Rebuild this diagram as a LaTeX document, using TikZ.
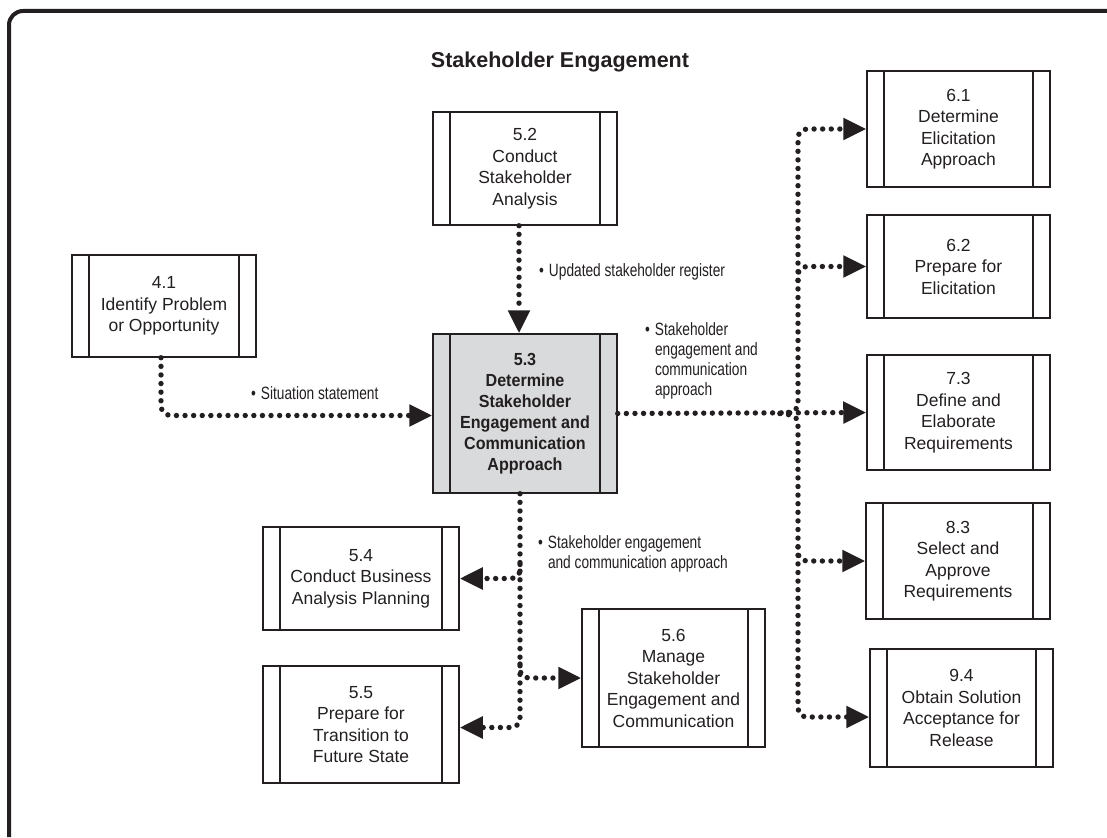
\documentclass[tikz,border=0pt]{standalone}
\usepackage{fontspec}
\setmainfont{Liberation Sans}
\newfontfamily\lblfont[FakeStretch=0.77]{Liberation Sans}
\newfontfamily\ctrfont[FakeStretch=0.92]{Liberation Sans}
\usetikzlibrary{arrows.meta,calc}
\definecolor{ink}{HTML}{231F20}
\definecolor{boxgray}{HTML}{D9DADB}
\tikzset{
  procbox/.style={draw=ink, line width=1.5pt, rectangle, inner sep=0pt, align=center,
    font=\fontsize{17.5}{21.5}\selectfont, text=ink,
    path picture={
      \draw[ink, line width=1.5pt] ([xshift=17pt]path picture bounding box.north west) -- ([xshift=17pt]path picture bounding box.south west);
      \draw[ink, line width=1.5pt] ([xshift=-17pt]path picture bounding box.north east) -- ([xshift=-17pt]path picture bounding box.south east);}},
  ctrbox/.style={procbox, fill=boxgray, font=\ctrfont\bfseries\fontsize{17.5}{21}\selectfont},
  flow/.style={ink, line width=5.4pt, line cap=round, dash pattern=on 0pt off 8.6pt,
    -{Triangle[length=23pt,width=21pt]}},
  lbl/.style={inner sep=0pt, align=left, text=ink, font=\lblfont\fontsize{17.8}{20}\selectfont},
  frame/.style={ink, line width=4pt, rounded corners=14pt},
}
\begin{document}
\begin{tikzpicture}[x=1pt,y=-1pt]
\useasboundingbox (0,0) rectangle (1107,837);
\draw[frame] (9,837) -- (9,11) -- (1107,11);

\node[font=\bfseries\fontsize{21.5}{25}\selectfont, text=ink] (title) at (560,62) {Stakeholder Engagement};

\node[procbox, minimum width=184pt, minimum height=102pt] (n41) at (164,306) {4.1\\Identify Problem\\or Opportunity};
\node[procbox, minimum width=184pt, minimum height=113pt] (n52) at (525,168.5) {5.2\\Conduct\\Stakeholder\\Analysis};
\node[ctrbox, minimum width=184pt, minimum height=159pt] (n53) at (525,413.5) {5.3\\Determine\\Stakeholder\\Engagement and\\Communication\\Approach};
\node[procbox, minimum width=196pt, minimum height=103pt] (n54) at (361,578.5) {5.4\\Conduct Business\\Analysis Planning};
\node[procbox, minimum width=196pt, minimum height=117pt] (n55) at (361,724.5) {5.5\\Prepare for\\Transition to\\Future State};
\node[procbox, minimum width=183pt, minimum height=138pt] (n56) at (673.5,678) {5.6\\Manage\\Stakeholder\\Engagement and\\Communication};
\node[procbox, minimum width=183pt, minimum height=116pt] (n61) at (958.5,129) {6.1\\Determine\\Elicitation\\Approach};
\node[procbox, minimum width=183pt, minimum height=103pt] (n62) at (958.5,266.5) {6.2\\Prepare for\\Elicitation};
\node[procbox, minimum width=183pt, minimum height=115pt] (n73) at (958.5,412.5) {7.3\\Define and\\Elaborate\\Requirements};
\node[procbox, minimum width=184pt, minimum height=116pt] (n83) at (958,561) {8.3\\Select and\\Approve\\Requirements};
\node[procbox, minimum width=183pt, minimum height=118pt] (n94) at (961.5,708) {9.4\\Obtain Solution\\Acceptance for\\Release};

% labels
\node[lbl, anchor=west] (l41) at (251,393) {\textbullet\hspace{5pt}Situation statement};
\node[lbl, anchor=west] (l52) at (539,272) {\textbullet\hspace{5pt}Updated stakeholder register};
\node[lbl, anchor=north west] (l53r) at (645,322) {\textbullet\hspace{5pt}Stakeholder\\\phantom{\textbullet}\hspace{5pt}engagement and\\\phantom{\textbullet}\hspace{5pt}communication\\\phantom{\textbullet}\hspace{5pt}approach};
\node[lbl, anchor=north west] (l53b) at (538,535) {\textbullet\hspace{5pt}Stakeholder engagement\\\phantom{\textbullet}\hspace{5pt}and communication approach};

% connectors
\draw[flow, rounded corners=10pt] ([xshift=-3pt]n41.south) |- ([yshift=-2pt]n53.west);
\draw[flow] ([xshift=-6pt]n52.south) -- ([xshift=-6pt]n53.north);

\coordinate (jr) at (798,413.5);
\draw[flow] (n53.east) -- (n73.west);
\draw[flow, rounded corners=9pt] ([xshift=-18pt]jr) .. controls ([xshift=-6pt]jr) and ([yshift=6pt]jr) .. ([yshift=16pt]jr) |- (n61.west);
\draw[flow, rounded corners=9pt] ([xshift=-18pt]jr) .. controls ([xshift=-6pt]jr) and ([yshift=-6pt]jr) .. ([yshift=-16pt]jr) |- ([yshift=-9pt]n94.west);
\draw[flow, rounded corners=9pt] ($(jr|-n62.west)+(0,14)$) |- (n62.west);
\draw[flow, rounded corners=9pt] ($(jr|-n83.west)+(0,-14)$) |- (n83.west);

\coordinate (jl) at ([xshift=-5pt]n53.south);
\draw[flow, rounded corners=9pt] (jl) |- ([yshift=-3pt]n55.east);
\draw[flow, rounded corners=9pt] ($(jl|-n54.east)+(0,-14)$) |- (n54.east);
\draw[flow, rounded corners=9pt] ($(jl|-n56.west)+(0,-14)$) |- (n56.west);
\end{tikzpicture}
\end{document}
